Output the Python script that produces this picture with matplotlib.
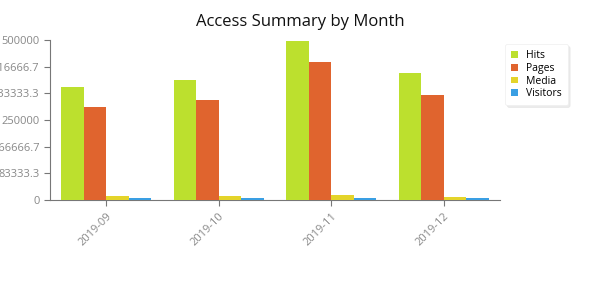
import numpy as np
import matplotlib
matplotlib.use("Agg")
import matplotlib.pyplot as plt

plt.rcParams['font.family'] = ['Open Sans', 'DejaVu Sans']

months = ["2019-09", "2019-10", "2019-11", "2019-12"]
hits = [353000, 375000, 497000, 397000]
pages = [290000, 312000, 431000, 328000]
media = [12000, 13000, 15000, 8500]
visitors = [6000, 6000, 6000, 6000]

series = [("Hits", hits, "#bce02e"),
          ("Pages", pages, "#e0642e"),
          ("Media", media, "#e4d42a"),
          ("Visitors", visitors, "#3a9fe3")]

fig = plt.figure(figsize=(6, 3), dpi=100)
ax = fig.add_axes([50/600, 100/300, 450/600, 160/300])

x = np.arange(len(months))
w = 0.2
for i, (name, vals, col) in enumerate(series):
    ax.bar(x - 0.4 + w * i, vals, width=w, align="edge", color=col,
           linewidth=0, label=name, zorder=3)

ax.set_xlim(-0.5, 3.5)
ax.set_ylim(0, 500000)
yt = np.linspace(0, 500000, 7)
ax.set_yticks(yt)
ax.set_yticklabels([("%.1f" % v).rstrip("0").rstrip(".") for v in yt])
ax.set_xticks(x)
ax.set_xticklabels(months, rotation=45, ha="right", rotation_mode="anchor")

for s in ["top", "right"]:
    ax.spines[s].set_visible(False)
for s in ["left", "bottom"]:
    ax.spines[s].set_color("#777777")
    ax.spines[s].set_linewidth(0.8)
    ax.spines[s].set_zorder(2)
ax.tick_params(colors="#777777", labelcolor="#888888", labelsize=8, length=4, width=0.8)

fig.text(300/600, 1 - 22/300, "Access Summary by Month", ha="center", va="center",
         fontsize=12, color="#111111")

leg = ax.legend(loc="upper left", bbox_to_anchor=(500/600, 1 - 39/300),
                bbox_transform=fig.transFigure, fontsize=7.5, frameon=True,
                handlelength=0.6, handleheight=0.6, handletextpad=0.8,
                labelspacing=0.15, borderpad=0.6, fancybox=True,
                shadow={"color": "#d8d8d8", "ox": 1.5, "oy": -1.5})
leg.get_frame().set_edgecolor("#eeeeee")
leg.get_frame().set_linewidth(0.5)

fig.savefig("out.png", dpi=100)
